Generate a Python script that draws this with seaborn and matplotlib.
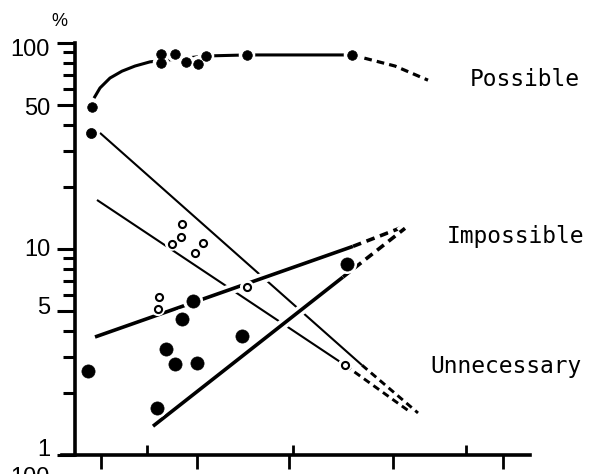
import matplotlib
matplotlib.use("Agg")
import numpy as np
import pandas as pd
import seaborn as sns
import matplotlib.pyplot as plt
import matplotlib.patheffects as pe
import matplotlib.transforms as mtransforms
from matplotlib.ticker import FixedLocator, NullFormatter

# ---------------- data (x in arbitrary axis units, y in %) ----------------
possible_x = [17, 86, 86, 100, 111, 123, 131, 172, 277]
possible_y = [49, 88.5, 80, 88.5, 81, 79, 86.5, 87.5, 87.5]
possible_fit_x = [19, 25, 35, 47, 60, 75, 131, 172, 277]
possible_fit_y = [54, 60.5, 67.6, 73, 77.3, 81, 86.5, 87.5, 87.5]
possible_ext_x = [277, 320, 353]
possible_ext_y = [87.5, 77.3, 66]

unnec_filled_x = [16]
unnec_filled_y = [36.6]
unnec_filled_fit_x = [25, 287]
unnec_filled_fit_y = [36.6, 2.73]
unnec_filled_ext_x = [287, 343]
unnec_filled_ext_y = [2.73, 1.60]

unnec_open_x = [107, 106, 97, 128, 120, 270]
unnec_open_y = [13.2, 11.4, 10.6, 10.7, 9.6, 2.73]
unnec_open_fit_x = [22, 270]
unnec_open_fit_y = [17.3, 2.73]
unnec_open_ext_x = [270, 335]
unnec_open_ext_y = [2.73, 1.62]

imposs_open_x = [84, 83, 172]
imposs_open_y = [5.85, 5.11, 6.54]
imposs_open_fit_x = [20, 278]
imposs_open_fit_y = [3.74, 10.3]
imposs_open_ext_x = [278, 330]
imposs_open_ext_y = [10.3, 12.9]

imposs_filled_x = [13, 82, 91, 100, 122, 107, 118, 167, 272]
imposs_filled_y = [2.56, 1.69, 3.27, 2.77, 2.80, 4.57, 5.59, 3.78, 8.46]
imposs_filled_fit_x = [78, 268]
imposs_filled_fit_y = [1.38, 7.31]
imposs_filled_ext_x = [268, 330]
imposs_filled_ext_y = [7.31, 12.6]

y_major = [1, 5, 10, 50, 100]
y_major_labels = ["1", "5", "10", "50", "100"]
y_minor = [2, 3, 4, 6, 7, 8, 9, 20, 30, 40, 60, 70, 80, 90]
x_ticks_down = [26, 122, 214, 318, 428]
x_ticks_up = [72, 218, 391]

# ---------------- figure ----------------
sns.set_theme(style="white")
plt.rcParams["font.family"] = ["DejaVu Sans"]

W, H = 592, 474
fig = plt.figure(figsize=(W / 100, H / 100), dpi=100)
fig.patch.set_facecolor("white")
ax = fig.add_axes([62 / W, 19 / H, (530 - 62) / W, (455 - 43) / H])
ax.set_facecolor("white")
ax.set_yscale("log")
ax.set_xlim(-13, 455)
ax.set_ylim(1, 100)


def line(xs, ys, lw, dashed=False, halo=False, z=2):
    kw = dict(color="black", lw=lw, sort=False, estimator=None, ax=ax, zorder=z,
              solid_capstyle="butt", dash_capstyle="butt")
    if dashed:
        kw["linestyle"] = (0, (2.4, 1.6))
    if halo:
        kw["path_effects"] = [pe.Stroke(linewidth=lw + 5, foreground="white"), pe.Normal()]
    sns.lineplot(x=xs, y=ys, **kw)


def points(xs, ys, s, filled=True, ew=0.0):
    halo_d = np.sqrt(s) + 5
    ax.scatter(xs, ys, s=halo_d ** 2, color="white", edgecolor="none", zorder=5)
    if filled:
        sns.scatterplot(x=xs, y=ys, s=s, color="black", edgecolor="black",
                        linewidth=0.5, ax=ax, zorder=6, legend=False)
    else:
        sns.scatterplot(x=xs, y=ys, s=s, facecolor="white", edgecolor="black",
                        linewidth=ew, ax=ax, zorder=6, legend=False)


# Possible
line(possible_fit_x, possible_fit_y, 2.2)
line(possible_ext_x, possible_ext_y, 2.3, dashed=True)
points(possible_x, possible_y, 48)

# Unnecessary (thin solid, bolder dashes)
line(unnec_filled_fit_x, unnec_filled_fit_y, 1.5)
line(unnec_filled_ext_x, unnec_filled_ext_y, 2.1, dashed=True)
line(unnec_open_fit_x, unnec_open_fit_y, 1.5)
line(unnec_open_ext_x, unnec_open_ext_y, 2.1, dashed=True)
points(unnec_filled_x, unnec_filled_y, 52)
points(unnec_open_x, unnec_open_y, 26, filled=False, ew=1.5)

# Impossible (thick)
line(imposs_open_fit_x, imposs_open_fit_y, 2.6, halo=True, z=3)
line(imposs_open_ext_x, imposs_open_ext_y, 2.6, dashed=True, halo=True, z=3)
line(imposs_filled_fit_x, imposs_filled_fit_y, 2.6, halo=True, z=3)
line(imposs_filled_ext_x, imposs_filled_ext_y, 2.6, dashed=True, halo=True, z=3)
points(imposs_open_x, imposs_open_y, 26, filled=False, ew=1.5)
points(imposs_filled_x, imposs_filled_y, 90)

# ---------------- axes styling ----------------
for s in ["top", "right"]:
    ax.spines[s].set_visible(False)
ax.spines["left"].set_position(("data", 0))
for s in ["left", "bottom"]:
    ax.spines[s].set_color("black")
    ax.spines[s].set_linewidth(2.6)
    ax.spines[s].set_zorder(7)

ax.yaxis.set_major_locator(FixedLocator(y_major))
ax.set_yticklabels(y_major_labels)
ax.yaxis.set_minor_locator(FixedLocator(y_minor))
ax.yaxis.set_minor_formatter(NullFormatter())
ax.tick_params(axis="y", which="major", direction="out", length=13, width=2.2,
               color="black", left=True, pad=5, labelsize=17, labelcolor="black")
ax.tick_params(axis="y", which="minor", direction="out", length=8.5, width=2.2,
               color="black", left=True)

# small hand-set vertical offsets of the y labels (pixels, + = up)
label_shift = {"100": -4, "50": -1, "10": 1, "5": 6, "1": 7}
for t in ax.get_yticklabels():
    t.set_fontfamily("Liberation Sans")
    dy = label_shift.get(t.get_text(), 0)
    t.set_transform(t.get_transform() + mtransforms.ScaledTranslation(0, dy / 100, fig.dpi_scale_trans))

ax.xaxis.set_major_locator(FixedLocator(x_ticks_down))
ax.xaxis.set_minor_locator(FixedLocator(x_ticks_up))
ax.xaxis.set_major_formatter(NullFormatter())
ax.xaxis.set_minor_formatter(NullFormatter())
ax.tick_params(axis="x", which="major", direction="out", length=10, width=2,
               color="black", bottom=True)
ax.tick_params(axis="x", which="minor", direction="in", length=7, width=2,
               color="black", bottom=True)
ax.set_xlabel("")
ax.set_ylabel("")
ax.grid(False)


# ---------------- texts ----------------
def ftext(px, py, s, **kw):
    fig.text(px / W, 1 - py / H, s, color="black", **kw)


ftext(59, 21, "%", ha="center", va="center", fontsize=13, fontfamily="Liberation Sans")
ftext(30, 467, "100", ha="center", va="top", fontsize=17, fontfamily="Liberation Sans")
mono = dict(ha="left", va="center", fontsize=16.5, fontfamily="DejaVu Sans Mono")
ftext(470, 80, "Possible", **mono)
ftext(447, 237, "Impossible", **mono)
ftext(430, 367, "Unnecessary", **mono)

fig.savefig("out.png", dpi=100, facecolor="white")
